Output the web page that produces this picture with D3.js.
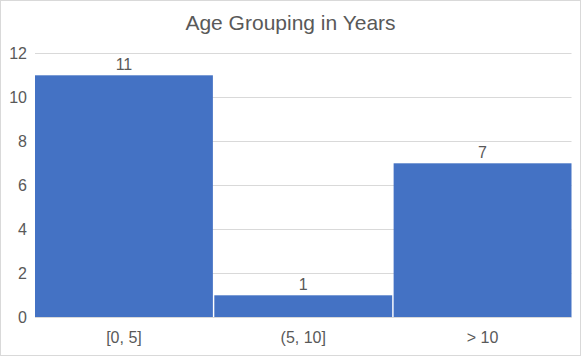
<!DOCTYPE html>
<html><head><meta charset="utf-8">
<script src="https://cdn.jsdelivr.net/npm/d3@7"></script>
<style>body{margin:0;background:#fff}svg{display:block}text{font-family:"Liberation Sans",Arial,sans-serif;fill:#595959}</style>
</head><body>
<script>
const categories = ["[0, 5]", "(5, 10]", "> 10"];
const counts = [11, 1, 7];
const yTicks = [0, 2, 4, 6, 8, 10, 12];
const title = "Age Grouping in Years";

const W = 581, H = 356;
const m = {left: 35, right: 9.5, top: 53.3, bottom: 38.7};
const svg = d3.select("body").append("svg").attr("width", W).attr("height", H);

svg.append("rect").attr("x", 0.5).attr("y", 0.5).attr("width", W - 1).attr("height", H - 1)
  .attr("fill", "#fff").attr("stroke", "#d9d9d9");

const x = d3.scaleBand().domain(categories).range([m.left, W - m.right]).paddingInner(0.008).paddingOuter(0);
const y = d3.scaleLinear().domain([0, 12]).range([H - m.bottom, m.top]);

// gridlines
svg.append("g").selectAll("line").data(yTicks.filter(d => d > 0)).join("line")
  .attr("x1", m.left).attr("x2", W - m.right)
  .attr("y1", d => Math.round(y(d)) + 0.5).attr("y2", d => Math.round(y(d)) + 0.5)
  .attr("stroke", "#d9d9d9").attr("stroke-width", 1);

// y axis labels
const yAxis = d3.axisLeft(y).tickValues(yTicks).tickSize(0).tickPadding(8);
const gy = svg.append("g").attr("transform", `translate(${m.left},0)`).call(yAxis);
gy.select(".domain").remove();
gy.selectAll("text").style("font-size", "16px").attr("fill", "#595959").style("font-family", '"Liberation Sans",Arial,sans-serif');

// bars
svg.append("g").selectAll("rect").data(counts).join("rect")
  .attr("x", (d, i) => x(categories[i]))
  .attr("width", x.bandwidth())
  .attr("y", d => y(d))
  .attr("height", d => y(0) - y(d))
  .attr("fill", "#4472c4");

// value labels
svg.append("g").selectAll("text").data(counts).join("text")
  .attr("x", (d, i) => x(categories[i]) + x.bandwidth() / 2)
  .attr("y", d => y(d) - 5.5)
  .attr("text-anchor", "middle").style("font-size", "16px")
  .text(d => d);

// x axis
const xAxis = d3.axisBottom(x).tickSize(0).tickPadding(14);
const gx = svg.append("g").attr("transform", `translate(0,${y(0)})`).call(xAxis);
gx.select(".domain").remove();
gx.selectAll("text").style("font-size", "16px").attr("fill", "#595959").style("font-family", '"Liberation Sans",Arial,sans-serif');
svg.append("line").attr("x1", m.left).attr("x2", W - m.right)
  .attr("y1", Math.round(y(0)) + 0.5).attr("y2", Math.round(y(0)) + 0.5)
  .attr("stroke", "#d9d9d9");

// title
svg.append("text").attr("x", 290.5).attr("y", 30).attr("text-anchor", "middle")
  .style("font-size", "21px").text(title);
</script>
</body></html>
